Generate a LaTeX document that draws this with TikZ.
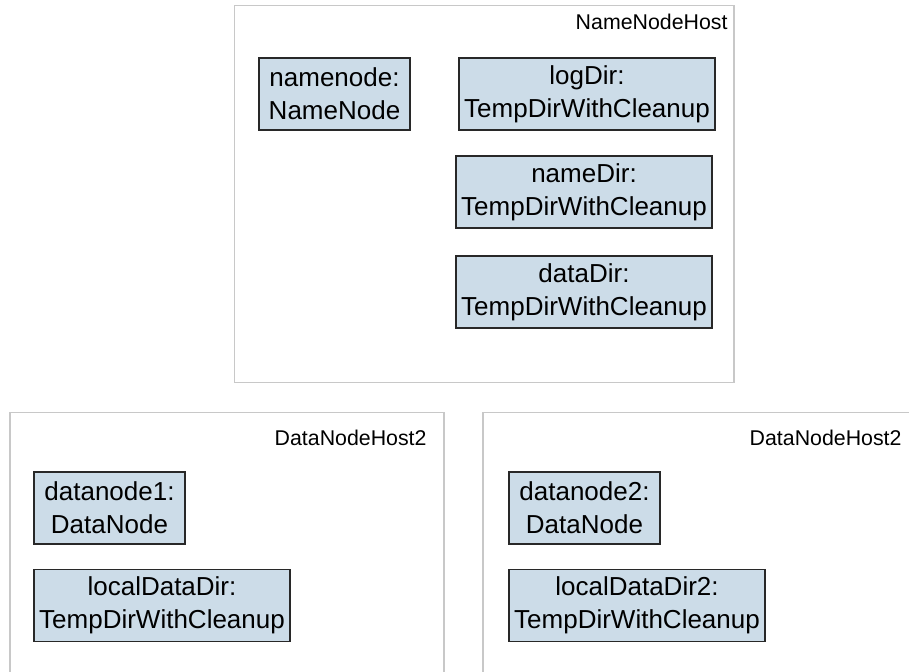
\documentclass[tikz,border=0pt]{standalone}
\usepackage{fontspec}
\setmainfont{Liberation Sans}
\definecolor{objfill}{RGB}{204,220,232}
\definecolor{objline}{RGB}{40,40,40}
\definecolor{hostline}{RGB}{200,200,200}
\tikzset{every picture/.style={line width=0.75pt}}
\tikzset{
	objbox/.style={draw=objline, fill=objfill, line width=0.9pt, inner sep=0pt, align=center,
		minimum height=54pt, font=\fontsize{19.5}{24.5}\selectfont},
	objsmall/.style={objbox, minimum width=113.25pt},
	objwide/.style={objbox, minimum width=192pt},
	hostbox/.style={draw=hostline, line width=0.9pt},
	hostlabel/.style={anchor=east, inner sep=0.75pt, font=\fontsize{16}{19}\selectfont}}

\begin{document}
\begin{tikzpicture}[x=0.75pt,y=0.75pt,yscale=-1,xscale=1]
	\useasboundingbox (0,0) rectangle (909,671); %set diagram to 909 by 671
	
	%Shape: Rectangle NameNodeHost
	\draw [hostbox] (234.5,5.5) rectangle (734,382.5) ;
	%Shape: Open Rectangle DataNodeHost2 (left)
	\draw [hostbox] (10,690) -- (10,412.5) -- (444,412.5) -- (444,690) ;
	%Shape: Open Rectangle DataNodeHost2 (right)
	\draw [hostbox] (483,690) -- (483,412.5) -- (930,412.5) ;
	
	% Text Node
	\node [hostlabel] (nnhost) at (729,22) {NameNodeHost};
	% Text Node
	\node [hostlabel] (dnhostA) at (428,438) {DataNodeHost2};
	% Text Node
	\node [hostlabel] (dnhostB) at (903,438) {DataNodeHost2};
	
	% Objects in NameNodeHost
	\node [objsmall] (namenode) at (334.5,94) {namenode:\\NameNode};
	\node [objwide] (logdir) at (587,94) {logDir:\\TempDirWithCleanup};
	\node [objwide] (namedir) at (584,192) {nameDir:\\TempDirWithCleanup};
	\node [objwide] (datadir) at (584,292) {dataDir:\\TempDirWithCleanup};
	
	% Objects in DataNodeHost2 (left)
	\node [objsmall] (datanodeA) at (109.5,508) {datanode1:\\DataNode};
	\node [objwide] (localdirA) at (162,605.5) {localDataDir:\\TempDirWithCleanup};
	
	% Objects in DataNodeHost2 (right)
	\node [objsmall] (datanodeB) at (584.5,508) {datanode2:\\DataNode};
	\node [objwide] (localdirB) at (637,605.5) {localDataDir2:\\TempDirWithCleanup};
	
\end{tikzpicture}
\end{document}
